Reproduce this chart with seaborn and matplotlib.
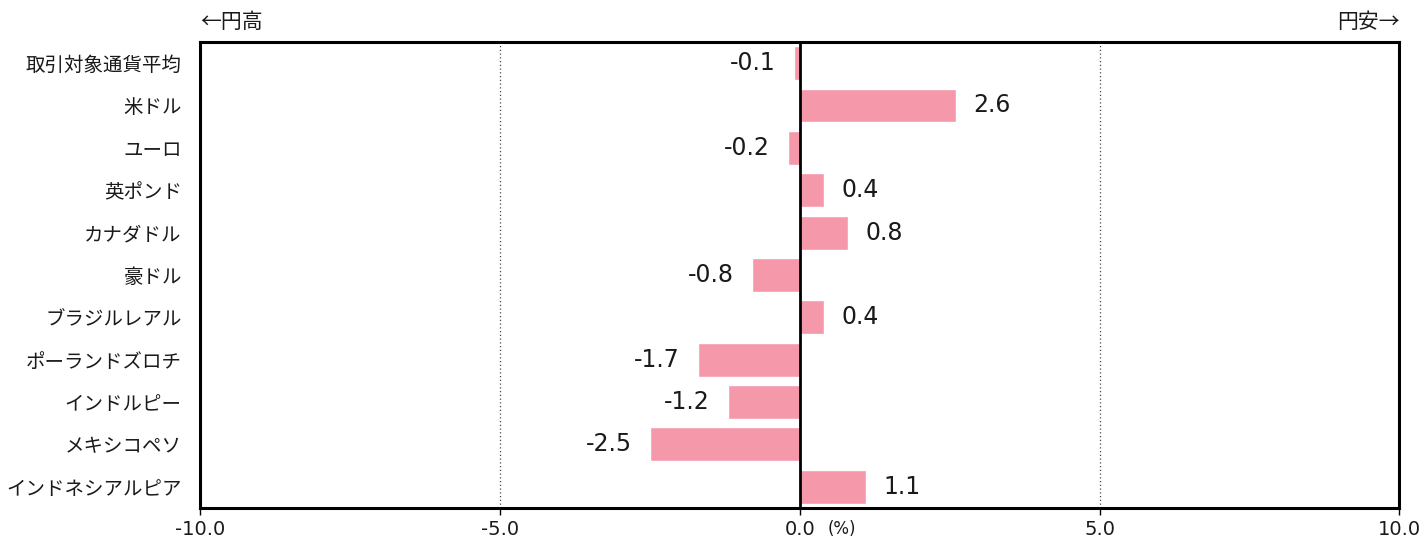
import matplotlib
matplotlib.use("Agg")
import matplotlib.pyplot as plt
import seaborn as sns
import pandas as pd

categories = ["取引対象通貨平均", "米ドル", "ユーロ", "英ポンド", "カナダドル", "豪ドル",
              "ブラジルレアル", "ポーランドズロチ", "インドルピー", "メキシコペソ", "インドネシアルピア"]
values = [-0.1, 2.6, -0.2, 0.4, 0.8, -0.8, 0.4, -1.7, -1.2, -2.5, 1.1]
xticks = [-10.0, -5.0, 0.0, 5.0, 10.0]
xtick_labels = ["-10.0", "-5.0", "0.0", "5.0", "10.0"]

sns.set_theme(style="white")
plt.rcParams['font.family'] = ['Noto Sans CJK JP', 'DejaVu Sans']
NUM_FONT = ['DejaVu Sans']
TXT = "#1a1a1a"

df = pd.DataFrame({"cat": categories, "val": values})

fig = plt.figure(figsize=(14.28, 5.41), dpi=100)
ax = fig.add_axes([0.140, 0.061, 0.840, 0.8615])
sns.barplot(data=df, x="val", y="cat", color="#F598AA", saturation=1, width=0.8, ax=ax, orient="h")

ax.set_xlim(-10, 10)
ax.set_xticks(xticks)
ax.set_xticklabels(xtick_labels, fontsize=14, color=TXT, family=NUM_FONT)
ax.tick_params(axis="x", length=5, width=1, color="black", direction="out", bottom=True, pad=4)
ax.tick_params(axis="y", length=0, labelsize=14, colors=TXT, pad=13)
ax.set_xlabel("")
ax.set_ylabel("")

for x in [-5, 5]:
    ax.axvline(x, color="#444444", linestyle=(0, (1, 2)), linewidth=0.9, zorder=0)
ax.axvline(0, color="black", linewidth=2, zorder=3)

for s in ax.spines.values():
    s.set_visible(True)
    s.set_color("black")
    s.set_linewidth(2.2)

for i, v in enumerate(values):
    if v >= 0:
        ax.annotate(f"{v:.1f}", (v, i), xytext=(13, 0), textcoords="offset points",
                    ha="left", va="center", fontsize=17, color=TXT, family=NUM_FONT)
    else:
        ax.annotate(f"{v:.1f}", (v, i), xytext=(-13, 0), textcoords="offset points",
                    ha="right", va="center", fontsize=17, color=TXT, family=NUM_FONT)

ax.annotate("(%)", (0, 0), xycoords=("data", "axes fraction"), xytext=(20, -9),
            textcoords="offset points", ha="left", va="top", fontsize=12, color=TXT, family=NUM_FONT)

ax.text(0.0, 1.02, "←円高", transform=ax.transAxes, ha="left", va="bottom", fontsize=15, color=TXT)
ax.text(1.0, 1.02, "円安→", transform=ax.transAxes, ha="right", va="bottom", fontsize=15, color=TXT)

fig.savefig("out.png", dpi=100, facecolor="white")
